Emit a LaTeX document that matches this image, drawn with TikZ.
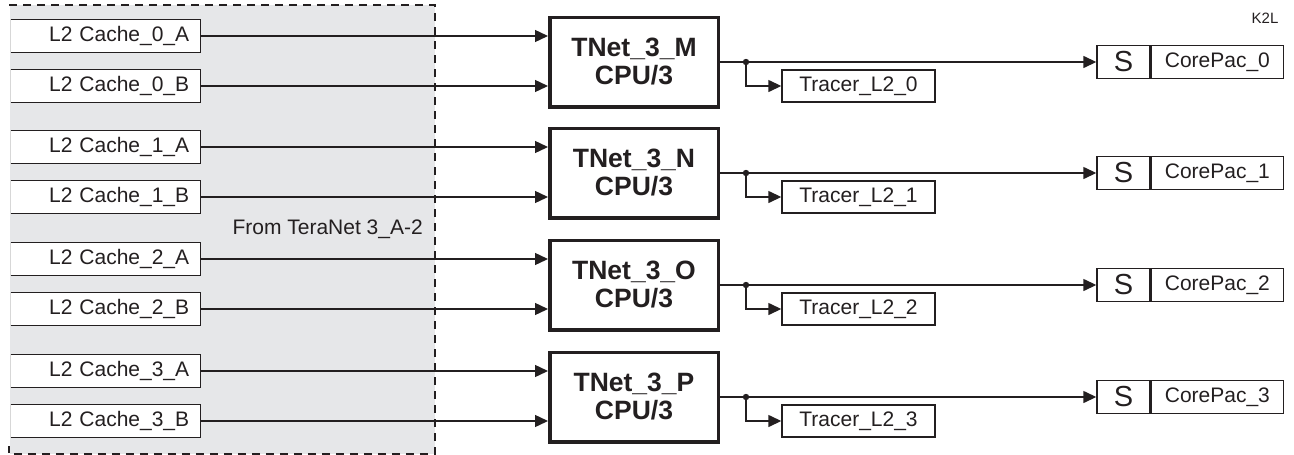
\documentclass[tikz,border=0pt]{standalone}
\usepackage{fontspec}
\setmainfont{Liberation Sans}
\usetikzlibrary{arrows.meta}
\definecolor{bggray}{RGB}{230,231,233}
\definecolor{ink}{RGB}{35,31,32}
\definecolor{faint}{RGB}{215,215,215}
\begin{document}
\begin{tikzpicture}[x=1pt,y=-1pt,
  every node/.style={text=ink},
  lw/.style={line width=1.4pt, draw=ink},
  cache/.style={fill=white, minimum height=33pt, text width=168pt, inner xsep=11pt, inner ysep=0pt, align=right, anchor=west, font=\fontsize{21}{24}\selectfont},
  tnet/.style={draw=ink, line width=3.5pt, fill=white, minimum width=168.5pt, minimum height=89.5pt, inner sep=0pt, align=center, font=\bfseries\fontsize{26.5}{28}\selectfont},
  tracer/.style={lw, fill=white, minimum width=153pt, minimum height=32pt, inner sep=0pt, font=\fontsize{21}{24}\selectfont},
  sbox/.style={lw, minimum width=53pt, minimum height=33pt, inner sep=0pt, font=\fontsize{29}{30}\selectfont},
  core/.style={lw, minimum width=132pt, minimum height=33pt, inner sep=0pt, anchor=west, font=\fontsize{21}{24}\selectfont},
  conn/.style={lw, -{Triangle[length=13pt,width=12pt]}},
  plain/.style={font=\fontsize{21}{24}\selectfont, inner sep=0pt}
]
\useasboundingbox (0,0) rectangle (1294,455);
\fill[bggray] (10,5) rectangle (435,454);
\draw[line width=1.4pt, draw=ink, dash pattern=on 8pt off 6pt] (9,5) -- (435,5) -- (435,454) -- (9,454) -- (9,446);
\node[plain, anchor=east] (from) at (423,229) {From TeraNet 3\_A-2};
\node[font=\fontsize{15}{18}\selectfont, inner sep=0pt] (k2l) at (1265,18) {K2L};
\foreach \i/\y/\L in {0/36/M,1/147/N,2/259/O,3/371/P}{
  \node[cache] (ca\i) at (10,\y) {L2 Cache\_\i\_A};
  \node[cache] (cb\i) at (10,{\y+50}) {L2 Cache\_\i\_B};
  \draw[lw] (ca\i.north west) -| (ca\i.south east) -- (ca\i.south west);
  \draw[lw] (cb\i.north west) -| (cb\i.south east) -- (cb\i.south west);
  \draw[faint, line width=0.8pt] (ca\i.north west) -- (ca\i.south west);
  \draw[faint, line width=0.8pt] (cb\i.north west) -- (cb\i.south west);
  \node[tnet] (t\i) at (634,{\y+26}) {TNet\_3\_\L\\CPU/3};
  \node[tracer] (tr\i) at (858.5,{\y+50}) {Tracer\_L2\_\i};
  \node[sbox] (s\i) at (1123.5,{\y+26}) {S};
  \node[core] (cp\i) at (s\i.east) {CorePac\_\i};
  \coordinate (j\i) at (746,{\y+26});
  \draw[conn] (ca\i.east) -- (ca\i.east -| t\i.west);
  \draw[conn] (cb\i.east) -- (cb\i.east -| t\i.west);
  \draw[conn] (t\i.east) -- (s\i.west);
  \fill[ink] (j\i) circle (3.2pt);
  \draw[conn] (j\i) |- (tr\i.west);
}
\end{tikzpicture}
\end{document}
